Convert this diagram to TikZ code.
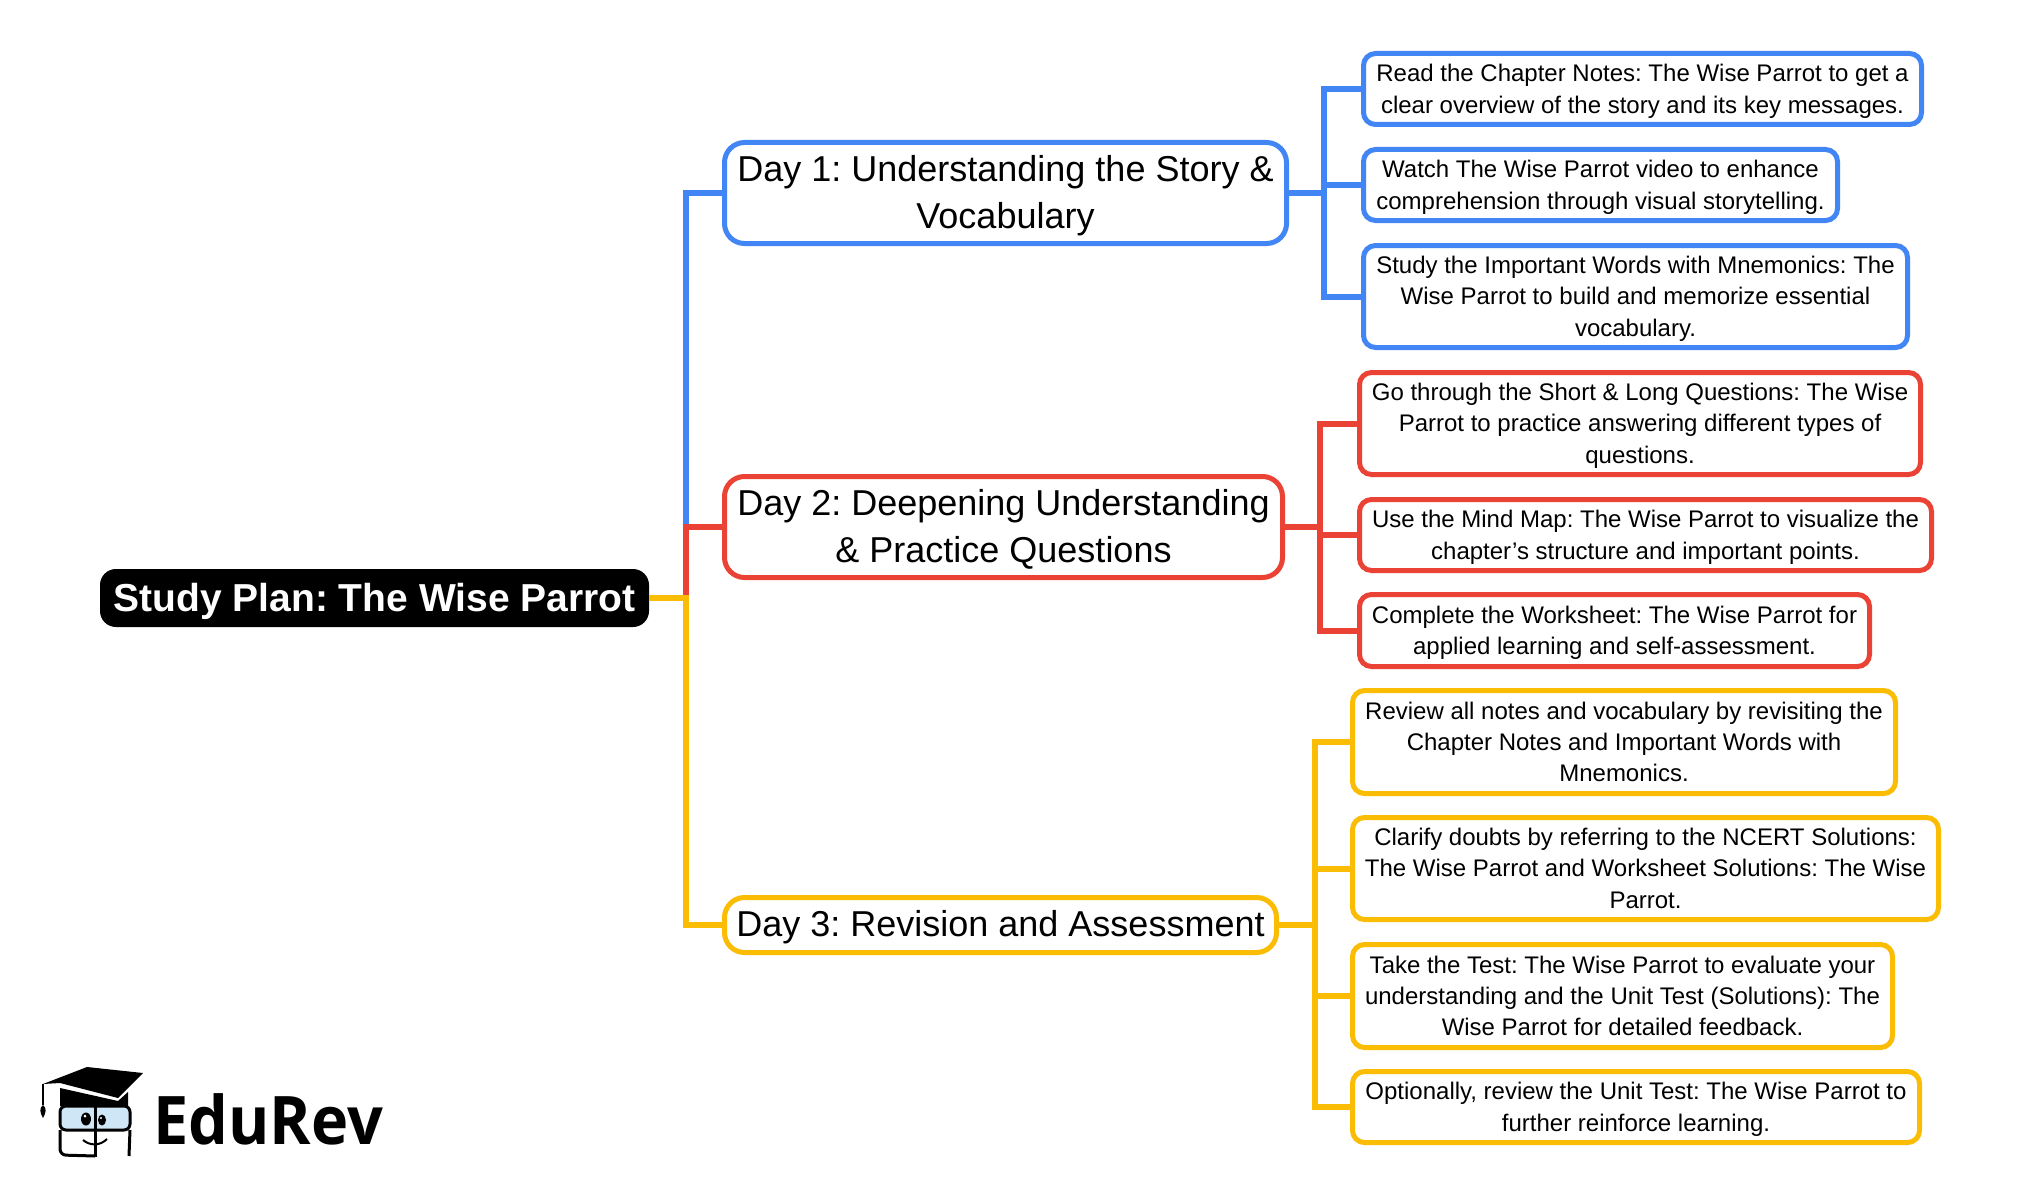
\documentclass[tikz,border=0pt]{standalone}
\usepackage{fontspec}
\setmainfont{Liberation Sans}
\newfontfamily\logofont[FakeStretch=0.94]{Open Sans}
\frenchspacing
\tikzset{
	x=1pt,y=-1pt,
	rootstyle/.style={rectangle,rounded corners=16pt,fill=black,text=white,inner sep=0pt,outer sep=0pt,minimum height=58pt,text depth=1pt,font=\fontsize{39}{47}\selectfont\bfseries\frenchspacing},
	daystyle/.style={rectangle,rounded corners=20pt,draw=#1,line width=5pt,fill=white,inner sep=0pt,outer sep=0pt,align=center,text depth=2.5pt,font=\fontsize{36}{47}\selectfont\frenchspacing},
	leafstyle/.style={rectangle,rounded corners=12pt,draw=#1,line width=5pt,fill=white,inner sep=0pt,outer sep=0pt,align=center,text depth=0.5pt,font=\fontsize{24}{31.4}\selectfont\frenchspacing},
	linkstyle/.style={draw=#1,line width=6pt}
}
\definecolor{dayblue}{HTML}{4285F4}
\definecolor{dayred}{HTML}{EA4335}
\definecolor{dayyellow}{HTML}{FBBC04}
\definecolor{glassblue}{HTML}{CFE6F7}

\begin{document}
\begin{tikzpicture}
		\useasboundingbox[fill=white] (0,0) rectangle (2043,1196);
		\node[rootstyle,minimum width=549pt] (root) at (374.5,598) {Study Plan: The Wise Parrot};
		\node[daystyle=dayblue,minimum width=562pt,minimum height=101pt] (day1) at (1005.5,193) {Day 1: Understanding the Story \&\\Vocabulary};
		\node[daystyle=dayred,minimum width=558pt,minimum height=101pt] (day2) at (1003.5,527) {Day 2: Deepening Understanding\\\& Practice Questions};
		\node[daystyle=dayyellow,minimum width=552pt,minimum height=55pt] (day3) at (1000.5,925) {Day 3: Revision and Assessment};
		\node[leafstyle=dayblue,minimum width=558pt,minimum height=71pt] (leaf11) at (1642.5,89) {Read the Chapter Notes: The Wise Parrot to get a\\clear overview of the story and its key messages.};
		\node[leafstyle=dayblue,minimum width=474pt,minimum height=71pt] (leaf12) at (1600.5,185) {Watch The Wise Parrot video to enhance\\comprehension through visual storytelling.};
		\node[leafstyle=dayblue,minimum width=544pt,minimum height=102pt] (leaf13) at (1635.5,296.5) {Study the Important Words with Mnemonics: The\\Wise Parrot to build and memorize essential\\vocabulary.};
		\node[leafstyle=dayred,minimum width=561pt,minimum height=102pt] (leaf21) at (1640,423.5) {Go through the Short \& Long Questions: The Wise\\Parrot to practice answering different types of\\questions.};
		\node[leafstyle=dayred,minimum width=572pt,minimum height=71pt] (leaf22) at (1645.5,535) {Use the Mind Map: The Wise Parrot to visualize the\\chapter’s structure and important points.};
		\node[leafstyle=dayred,minimum width=510pt,minimum height=72pt] (leaf23) at (1614.5,630.5) {Complete the Worksheet: The Wise Parrot for\\applied learning and self-assessment.};
		\node[leafstyle=dayyellow,minimum width=543pt,minimum height=103pt] (leaf31) at (1624,742) {Review all notes and vocabulary by revisiting the\\Chapter Notes and Important Words with\\Mnemonics.};
		\node[leafstyle=dayyellow,minimum width=586pt,minimum height=102pt] (leaf32) at (1645.5,868.5) {Clarify doubts by referring to the NCERT Solutions:\\The Wise Parrot and Worksheet Solutions: The Wise\\Parrot.};
		\node[leafstyle=dayyellow,minimum width=540pt,minimum height=103pt] (leaf33) at (1622.5,996) {Take the Test: The Wise Parrot to evaluate your\\understanding and the Unit Test (Solutions): The\\Wise Parrot for detailed feedback.};
		\node[leafstyle=dayyellow,minimum width=567pt,minimum height=71pt] (leaf34) at (1636,1107) {Optionally, review the Unit Test: The Wise Parrot to\\further reinforce learning.};
		\coordinate (trunk) at (686,598);
		\coordinate (fork1) at (1324,193);
		\coordinate (fork2) at (1320,527);
		\coordinate (fork3) at (1315,925);
		\draw[linkstyle=dayblue] (trunk) |- (day1.west);
		\draw[linkstyle=dayred] (trunk) |- (day2.west);
		\draw[linkstyle=dayyellow] (root.east) -- (trunk) |- (day3.west);
		\draw[linkstyle=dayblue] (day1.east) -- (fork1);
		\draw[linkstyle=dayblue] (fork1) |- (leaf11.west);
		\draw[linkstyle=dayblue] (fork1) |- (leaf12.west);
		\draw[linkstyle=dayblue] (fork1) |- (leaf13.west);
		\draw[linkstyle=dayred] (day2.east) -- (fork2);
		\draw[linkstyle=dayred] (fork2) |- (leaf21.west);
		\draw[linkstyle=dayred] (fork2) |- (leaf22.west);
		\draw[linkstyle=dayred] (fork2) |- (leaf23.west);
		\draw[linkstyle=dayyellow] (day3.east) -- (fork3);
		\draw[linkstyle=dayyellow] (fork3) |- (leaf31.west);
		\draw[linkstyle=dayyellow] (fork3) |- (leaf32.west);
		\draw[linkstyle=dayyellow] (fork3) |- (leaf33.west);
		\draw[linkstyle=dayyellow] (fork3) |- (leaf34.west);
		% logo
		\node[anchor=base west,inner sep=0pt,font=\fontsize{67}{67}\selectfont\logofont\bfseries] (logotext) at (153,1144) {EduRev};
		\fill[black] (43,1084) -- (87,1067) -- (143,1073) -- (118,1098) -- (60,1083) -- cycle;
		\fill[black] (60,1088) -- (118,1101) -- (128,1092) -- (128,1106) -- (60,1106) -- cycle;
		\draw[black,line width=1.5pt] (43,1084) -- (43,1105);
		\fill[black] (43,1105) .. controls (39,1108) and (40,1113) .. (43,1118) .. controls (46,1113) and (47,1108) .. (43,1105) -- cycle;
		\draw[black,line width=3pt,fill=glassblue,rounded corners=6pt] (60,1106) rectangle (130,1130);
		\draw[black,line width=3pt,rounded corners=6pt] (60,1130) -- (60,1155) -- (95,1156);
		\draw[black,line width=3pt,rounded corners=6pt] (130,1130) -- (129,1156);
		\draw[black,line width=3pt] (95,1102) -- (95,1157);
		\fill[black] (86,1119) ellipse (5pt and 6.5pt);
		\fill[black] (102,1120) ellipse (4pt and 5.5pt);
		\fill[white] (85,1116) circle (1.5pt);
		\fill[white] (101,1118) circle (1.2pt);
		\draw[black,line width=2pt] (83,1140) .. controls (90,1146) and (100,1146) .. (107,1139);
		\end{tikzpicture}
\end{document}
